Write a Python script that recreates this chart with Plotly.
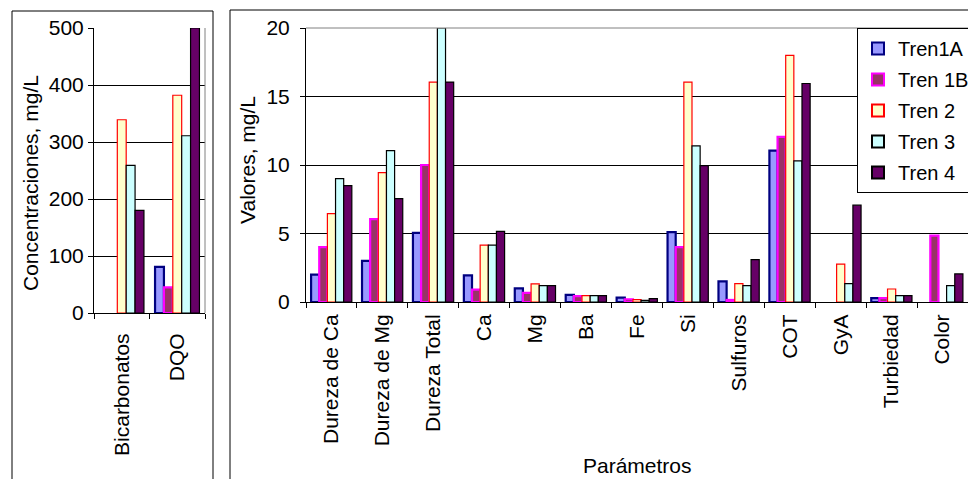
import plotly.graph_objects as go

# ---------------- data ----------------
left_categories = ["Bicarbonatos", "DQO"]
right_categories = ["Dureza de Ca", "Dureza de Mg", "Dureza Total", "Ca", "Mg", "Ba",
                    "Fe", "Si", "Sulfuros", "COT", "GyA", "Turbiedad", "Color"]
series_names = ["Tren1A", "Tren 1B", "Tren 2", "Tren 3", "Tren 4"]

left_tren1a = [None, 81]
left_tren1b = [None, 45]
left_tren2 = [339, 382]
left_tren3 = [259, 311]
left_tren4 = [180, 500]

right_tren1a = [2.0, 3.0, 5.05, 1.95, 1.0, 0.52, 0.32, 5.1, 1.5, 11.05, None, 0.29, None]
right_tren1b = [4.0, 6.05, 10.0, 0.9, 0.67, 0.43, 0.2, 4.0, 0.15, 12.05, None, 0.29, 4.85]
right_tren2 = [6.45, 9.45, 16.05, 4.15, 1.33, 0.47, 0.17, 16.05, 1.34, 18.0, 2.76, 0.95, None]
right_tren3 = [9.0, 11.05, 20.0, 4.15, 1.2, 0.46, 0.12, 11.4, 1.2, 10.3, 1.34, 0.46, 1.19]
right_tren4 = [8.5, 7.55, 16.05, 5.15, 1.2, 0.46, 0.25, 9.95, 3.1, 15.95, 7.07, 0.46, 2.05]

# ---------------- styles ----------------
fills = ["#9999FF", "#993366", "#FFFFCC", "#CCFFFF", "#660066"]
edges = ["#000080", "#FF00FF", "#FF0000", "#000000", "#000000"]
edge_w = [2.2, 2.2, 1.2, 1.2, 1.2]

FONT = "Liberation Sans, Arial, sans-serif"
FS = 21
W, H = 968, 479

left_vals = [left_tren1a, left_tren1b, left_tren2, left_tren3, left_tren4]
right_vals = [right_tren1a, right_tren1b, right_tren2, right_tren3, right_tren4]

fig = go.Figure()
for i, name in enumerate(series_names):
    fig.add_trace(go.Bar(
        x=left_categories, y=left_vals[i], name=name, xaxis="x", yaxis="y",
        marker=dict(color=fills[i], line=dict(color=edges[i], width=edge_w[i])),
        showlegend=False, legendgroup=name))
for i, name in enumerate(series_names):
    fig.add_trace(go.Bar(
        x=right_categories, y=right_vals[i], name=name, xaxis="x2", yaxis="y2",
        marker=dict(color=fills[i], line=dict(color=edges[i], width=edge_w[i])),
        showlegend=True, legendgroup=name))

def px(x):
    return x / W

def py(y):
    return (H - y) / H

axis_common = dict(
    showline=True, linecolor="black", linewidth=1,
    ticks="outside", ticklen=5, tickcolor="black", tickwidth=1,
    tickfont=dict(family=FONT, size=FS, color="black"),
    zeroline=False, fixedrange=True,
)

fig.update_layout(
    width=W, height=H,
    margin=dict(l=0, r=0, t=0, b=0, autoexpand=False),
    paper_bgcolor="white", plot_bgcolor="white",
    barmode="group", bargap=0.2, bargroupgap=0.0,
    font=dict(family=FONT, size=FS, color="black"),
    xaxis=dict(domain=[px(94), px(205)], anchor="y", tickson="boundaries",
               tickangle=-90, showgrid=False, ticklabelstandoff=11, **axis_common),
    yaxis=dict(domain=[py(313), py(28)], anchor="x", range=[0, 500], dtick=100,
               showgrid=True, gridcolor="black", gridwidth=1, **axis_common),
    xaxis2=dict(domain=[px(306), px(968)], anchor="y2", tickson="boundaries",
                tickangle=-90, showgrid=False, ticklabelstandoff=3, **axis_common),
    yaxis2=dict(domain=[py(302), py(28)], anchor="x2", range=[0, 20], dtick=5,
                showgrid=True, gridcolor="black", gridwidth=1, ticklabelstandoff=6,
                **axis_common),
    legend=dict(x=px(857), y=py(28), xanchor="left", yanchor="top",
                bgcolor="white", bordercolor="black", borderwidth=1,
                font=dict(family=FONT, size=20, color="black"),
                tracegroupgap=2, itemsizing="constant", itemwidth=30),
)

shapes = [
    # panel frames
    dict(type="rect", xref="paper", yref="paper", x0=px(12), x1=px(213), y0=-0.02, y1=py(11),
         line=dict(color="black", width=1), fillcolor="rgba(0,0,0,0)", layer="below"),
    dict(type="rect", xref="paper", yref="paper", x0=px(230), x1=1.02, y0=-0.02, y1=py(10),
         line=dict(color="black", width=1), fillcolor="rgba(0,0,0,0)", layer="below"),
    # gray plot-area borders (top / right)
    dict(type="line", xref="x domain", yref="y domain", x0=1, x1=1, y0=0, y1=1,
         line=dict(color="#808080", width=1)),
    dict(type="line", xref="x2 domain", yref="y2 domain", x0=0, x1=1, y0=1, y1=1,
         line=dict(color="#808080", width=1)),
]
fig.update_layout(shapes=shapes)

annotations = [
    dict(text="Concentraciones, mg/L", xref="paper", yref="paper", x=px(30), y=py(183),
         showarrow=False, textangle=-90, font=dict(family=FONT, size=FS, color="black"),
         xanchor="center", yanchor="middle"),
    dict(text="Valores, mg/L", xref="paper", yref="paper", x=px(247), y=py(160),
         showarrow=False, textangle=-90, font=dict(family=FONT, size=FS, color="black"),
         xanchor="center", yanchor="middle"),
    dict(text="Parámetros", xref="paper", yref="paper", x=px(637), y=py(465),
         showarrow=False, font=dict(family=FONT, size=FS, color="black"),
         xanchor="center", yanchor="middle"),
]
fig.update_layout(annotations=annotations)

fig.write_html(
    "out.html",
    config={"displayModeBar": False},
    post_script="document.body.style.margin='0';document.body.style.overflow='hidden';",
)
